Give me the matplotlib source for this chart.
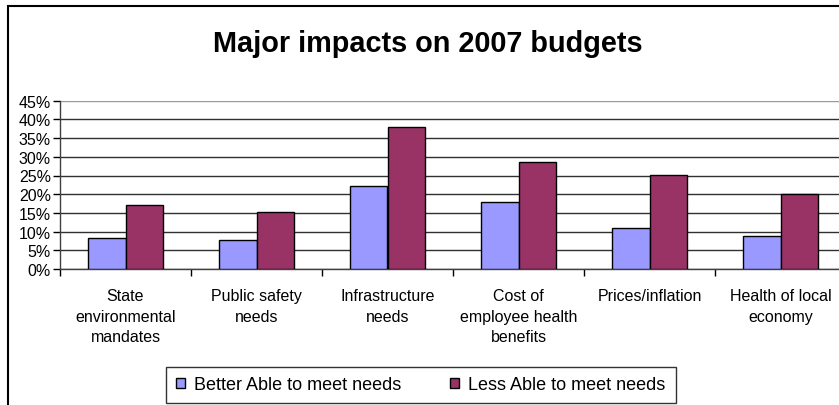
import numpy as np
import matplotlib
matplotlib.use("Agg")
import matplotlib.pyplot as plt
from matplotlib.patches import Rectangle
from matplotlib.ticker import PercentFormatter

plt.rcParams['font.family'] = ['Liberation Sans', 'DejaVu Sans']

# Data
categories = [
    "State\nenvironmental\nmandates",
    "Public safety\nneeds",
    "Infrastructure\nneeds",
    "Cost of\nemployee health\nbenefits",
    "Prices/inflation",
    "Health of local\neconomy",
]
better_able = [8.4, 7.7, 22.2, 17.8, 11.0, 8.8]
less_able = [17.1, 15.3, 38.1, 28.7, 25.1, 20.1]
series_names = ["Better Able to meet needs", "Less Able to meet needs"]
y_ticks = [0, 5, 10, 15, 20, 25, 30, 35, 40, 45]


def plot_budgets():
    fig = plt.figure(figsize=(8.39, 4.06), dpi=100)
    ax = fig.add_axes([60 / 839, 1 - 270 / 406, 786 / 839, (270 - 101.7) / 406])

    x = np.arange(len(categories))
    w = 0.285
    b1 = ax.bar(x - w / 2, better_able, w, color='#9999FF', edgecolor='black',
                linewidth=1, label=series_names[0], zorder=3)
    b2 = ax.bar(x + w / 2, less_able, w, color='#993366', edgecolor='black',
                linewidth=1, label=series_names[1], zorder=3)

    ax.set_xlim(-0.5, len(categories) - 0.5)
    ax.set_ylim(0, 45)
    ax.set_yticks(y_ticks)
    ax.yaxis.set_major_formatter(PercentFormatter(decimals=0))
    ax.tick_params(axis='y', length=5, width=1, pad=1.5, labelsize=11.5, direction='out')

    # category labels centred, tick marks between categories
    ax.set_xticks(x)
    ax.set_xticklabels(categories, fontsize=11.5, linespacing=1.45)
    ax.tick_params(axis='x', which='major', length=0, pad=14)
    ax.set_xticks(np.arange(len(categories) + 1) - 0.5, minor=True)
    ax.tick_params(axis='x', which='minor', length=5, width=1, direction='out')

    ax.grid(axis='y', color='#303030', linewidth=1, zorder=0)
    ax.get_ygridlines()[-1].set_color('#9a9a9a')
    for side in ['top', 'right']:
        ax.spines[side].set_visible(False)
    for side in ['left', 'bottom']:
        ax.spines[side].set_color('#404040')
        ax.spines[side].set_linewidth(1)

    fig.text(0.510, 1 - 44 / 406, "Major impacts on 2007 budgets", ha='center',
             va='center', fontsize=20.8, fontweight='bold')

    # chart frame (clipped by image edges)
    fig.patches.append(Rectangle((7.5 / 839, -0.2), 1.2, 1.2 - 6.5 / 406,
                                 transform=fig.transFigure, fill=False,
                                 edgecolor='black', linewidth=1.5))

    leg = fig.legend(handles=[b1, b2], loc='center', bbox_to_anchor=(421 / 839, 1 - 386 / 406),
                     ncol=2, fontsize=13, frameon=True, fancybox=False, shadow=False,
                     handlelength=0.5, handleheight=0.5, handletextpad=0.5,
                     columnspacing=2.7, borderpad=0.55, borderaxespad=0)
    leg.get_frame().set_edgecolor('black')
    leg.get_frame().set_linewidth(1)

    fig.savefig("out.png", dpi=100)


if __name__ == "__main__":
    plot_budgets()
